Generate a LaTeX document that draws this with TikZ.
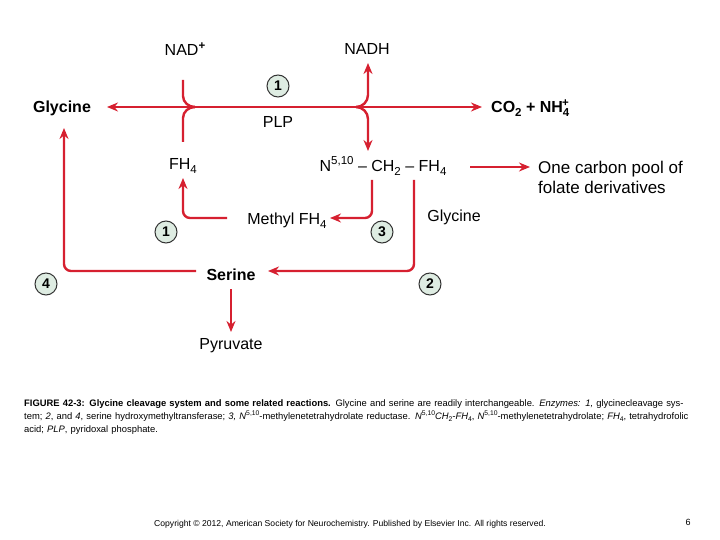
\documentclass[tikz,border=0pt]{standalone}
\usepackage{fontspec}
\setmainfont{Liberation Sans}
\usetikzlibrary{arrows.meta}
\definecolor{rx}{RGB}{214,32,48}
\definecolor{cfill}{RGB}{222,236,226}
\newcommand{\dn}[1]{\raisebox{-0.45ex}{\scalebox{0.72}{#1}}}
\newcommand{\up}[1]{\raisebox{0.75ex}{\scalebox{0.72}{#1}}}
\tikzset{
 rl/.style={draw=rx,line width=2.4pt},
 ar/.style={rl,-{Stealth[length=11pt,width=9pt]}},
 arc/.style={ar,rounded corners=7pt},
 lab/.style={font=\fontsize{16}{19}\selectfont,inner sep=1pt},
 blab/.style={lab,font=\fontsize{16}{19}\selectfont\bfseries},
 enz/.style={circle,draw=black!80,fill=cfill,line width=1pt,minimum size=22pt,inner sep=0pt,font=\fontsize{14}{14}\selectfont\bfseries}
}
\begin{document}
\begin{tikzpicture}[x=1pt,y=-1pt]
\useasboundingbox (0,0) rectangle (720,540);
\node[lab] (nad) at (185,49) {NAD\up{\textbf{+}}};
\node[lab] (nadh) at (367,49) {NADH};
\node[blab] (gly) at (62,108) {Glycine};
\node[blab,anchor=west] (co2) at (490,108) {CO\dn{2} + NH\dn{4}\kern-0.45em\up{+}};
\node[enz] (e1a) at (278,86) {1};
\node[lab] (plp) at (278,122) {PLP};
\node[lab] (fh4) at (183,166) {FH\dn{4}};
\node[lab] (n510) at (383,166) {N\up{5,10} -- CH\dn{2} -- FH\dn{4}};
\node[lab,align=left,anchor=west,font=\fontsize{17}{20}\selectfont] (pool) at (537,177) {One carbon pool of\\folate derivatives};
\node[lab] (meth) at (287,221) {Methyl FH\dn{4}};
\node[enz] (e1b) at (166,232) {1};
\node[enz] (e3) at (382,232) {3};
\node[lab] (gly2) at (454,217) {Glycine};
\node[blab] (ser) at (231,275) {Serine};
\node[enz] (e2) at (430,284) {2};
\node[enz] (e4) at (46,284) {4};
\node[lab] (pyr) at (231,346) {Pyruvate};
\coordinate (L) at (195,107);
\coordinate (R) at (356,107);
\coordinate (gE) at (107,107);
\coordinate (cW) at (482,107);
\draw[ar] (L) -- (gE);
\draw[ar] (R) -- (cW);
\draw[rl] (R) -- (L);
\draw[rl] (183,80) -- (183,96) to[out=-90,in=180] (L);
\draw[rl] (183,142) -- (183,118) to[out=90,in=180] (L);
\draw[ar] (R) to[out=0,in=-90] (368,95) -- (368,63);
\draw[ar] (R) to[out=0,in=90] (368,119) -- (368,151);
\coordinate (p1) at (470,167);
\coordinate (p2) at (530,167);
\draw[ar] (p1) -- (p2);
\draw[arc] (372,180) |- (330,218);
\draw[arc] (227,218) -| (183,178);
\draw[arc] (414,180) |- (268,271);
\draw[arc] (196,271) -| (64,128);
\draw[ar] (231,289) -- (231,332);
\node[anchor=north west,text width=672pt,align=left,inner sep=0pt,font=\fontsize{9.4}{13}\selectfont] (cap) at (24,399) {\textbf{FIGURE 42-3: Glycine cleavage system and some related reactions.} Glycine and serine are readily interchangeable. \textit{Enzymes: 1,} glycinecleavage system; \textit{2}, and \textit{4}, serine hydroxymethyltransferase; \textit{3, N}\up{5,10}-methylenetetrahydrolate reductase. \textit{N}\up{5,10}\textit{CH}\dn{2}\textit{-FH}\dn{4}, \textit{N}\up{5,10}-methylenetetrahydrolate; \textit{FH}\dn{4}, tetrahydrofolic acid; \textit{PLP}, pyridoxal phosphate.};
\node[font=\fontsize{8.6}{9}\selectfont] (copy) at (350,524) {Copyright © 2012, American Society for Neurochemistry. Published by Elsevier Inc. All rights reserved.};
\node[font=\fontsize{9}{9}\selectfont] (pg) at (688,522) {6};
\end{tikzpicture}
\end{document}
